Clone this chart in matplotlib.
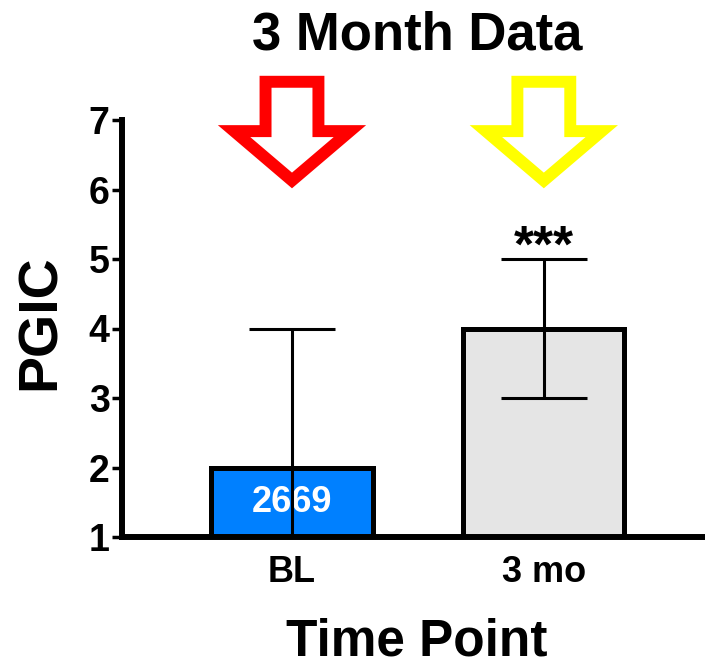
import matplotlib
matplotlib.use("Agg")
import matplotlib.pyplot as plt
from matplotlib.patches import Polygon

plt.rcParams['font.family'] = ['Liberation Sans', 'DejaVu Sans']
plt.rcParams['font.weight'] = 'bold'

# data
time_points = ['BL', '3 mo']
pgic = [2, 4]
pgic_err = [2, 1]
bar_colors = ['#0080FF', '#E5E5E5']
n_label = '2669'
sig_label = '***'
arrow_colors = ['#FF0000', '#FFFF00']

fig = plt.figure(figsize=(7.05, 6.66), dpi=100)
ax = fig.add_axes([122 / 705, 129 / 666, 583 / 705, 417 / 666])

xpos = list(range(len(time_points)))
ax.bar(xpos, pgic, width=0.64, color=bar_colors, edgecolor='black',
       linewidth=3.6, zorder=2)
ax.errorbar(xpos, pgic, yerr=pgic_err, fmt='none', ecolor='black',
            elinewidth=2.2, capsize=31, capthick=2.2, zorder=4)

# n inside BL bar
ax.text(xpos[0], 1.5, n_label, color='white', fontsize=26, fontweight='bold',
        ha='center', va='center', zorder=3)
# significance
ax.text(xpos[1], pgic[1] + pgic_err[1] - 0.04, sig_label, fontsize=37,
        fontweight='bold', ha='center', va='baseline')

# hollow down arrows above each bar
for x, c in zip(xpos, arrow_colors):
    sw, hw = 0.105, 0.23
    top, base, tip = 7.55, 6.84, 6.13
    pts = [(x - sw, top), (x + sw, top), (x + sw, base), (x + hw, base),
           (x, tip), (x - hw, base), (x - sw, base)]
    ax.add_patch(Polygon(pts, closed=True, fill=False, edgecolor=c,
                         linewidth=8.6, joinstyle='miter', clip_on=False))

ax.set_xlim(-0.675, 1.64)
ax.set_ylim(1, 7)
ax.set_yticks(range(1, 8))
ax.set_xticks(xpos)
ax.set_xticklabels(time_points)

for s in ['top', 'right']:
    ax.spines[s].set_visible(False)
for s in ['left', 'bottom']:
    ax.spines[s].set_linewidth(4.3)

ax.tick_params(axis='y', length=7, width=2.5, pad=2, labelsize=27)
ax.tick_params(axis='x', length=0, pad=13, labelsize=26)
for lab in ax.get_xticklabels() + ax.get_yticklabels():
    lab.set_fontweight('bold')

ax.set_ylabel('PGIC', fontsize=40, fontweight='bold')
ax.yaxis.set_label_coords(-0.094, 0.515)

fig.text(417 / 705, 0.925, '3 Month Data', fontsize=38, fontweight='bold',
         ha='center', va='baseline')
fig.text(417 / 705, 0.0165, 'Time Point', fontsize=37, fontweight='bold',
         ha='center', va='baseline')

fig.savefig('out.png', dpi=100)
